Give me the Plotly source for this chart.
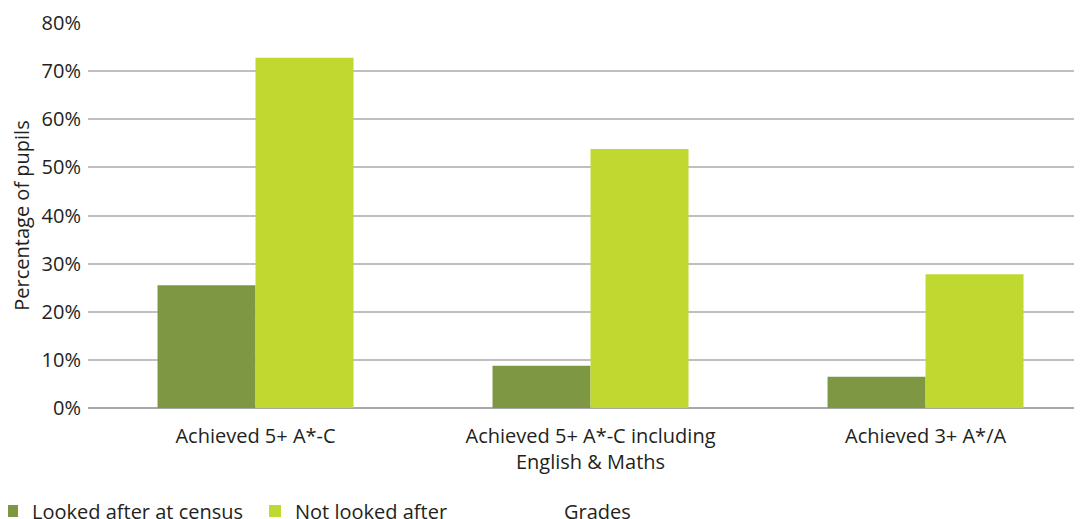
import plotly.graph_objects as go

categories = ["Achieved 5+ A*-C", "Achieved 5+ A*-C including<br>English & Maths", "Achieved 3+ A*/A"]
looked_after = [0.255, 0.088, 0.065]
not_looked_after = [0.728, 0.538, 0.278]
y_ticks = [0, 0.1, 0.2, 0.3, 0.4, 0.5, 0.6, 0.7, 0.8]
y_tick_labels = ["0%", "10%", "20%", "30%", "40%", "50%", "60%", "70%", "80%"]

FONT = "Open Sans"
TXT = "#231f20"
FS = 20

# page body has an 8px default margin; figure sized so it fits the window exactly
W, H = 1074, 511
L, T = 80, 15
B = H - 400

fig = go.Figure()
fig.add_trace(go.Bar(x=categories, y=looked_after, name="Looked after at census",
                     marker=dict(color="#7e9742", line=dict(width=0))))
fig.add_trace(go.Bar(x=categories, y=not_looked_after, name="Not looked after",
                     marker=dict(color="#c1d831", line=dict(width=0))))

plot_h = H - T - B
plot_w = W - L

fig.update_layout(
    width=W, height=H,
    margin=dict(l=L, r=0, t=T, b=B, autoexpand=False),
    plot_bgcolor="white", paper_bgcolor="white",
    barmode="group", bargap=0.415, bargroupgap=0,
    font=dict(family=FONT, size=FS, color=TXT),
    showlegend=True,
    legend=dict(orientation="h", x=(-16 - L) / plot_w, xref="paper", xanchor="left",
                y=-(503 - 400) / plot_h, yref="paper", yanchor="middle",
                font=dict(size=FS, color=TXT), itemwidth=30,
                entrywidth=218, entrywidthmode="pixels",
                traceorder="normal", bgcolor="rgba(0,0,0,0)"),
    xaxis=dict(range=[-0.5, 2.467], showgrid=False, showline=False, ticks="",
               tickfont=dict(size=FS, color=TXT), ticklabelstandoff=14),
    yaxis=dict(range=[0, 0.8], tickvals=y_ticks, ticktext=y_tick_labels,
               showgrid=True, gridcolor="#c0c0c0", gridwidth=1.5,
               zeroline=True, zerolinecolor="#a8a8a8", zerolinewidth=1.5,
               ticks="", tickfont=dict(size=FS, color=TXT), ticklabelstandoff=6,
               title=dict(text="Percentage of pupils", font=dict(size=FS, color=TXT), standoff=8)),
    annotations=[dict(text="Grades", xref="paper", yref="paper", x=(589 - L) / plot_w,
                      y=-(503 - 400) / plot_h, xanchor="center", yanchor="middle", showarrow=False,
                      font=dict(size=FS, color=TXT))],
)

fig.write_html("out.html")
